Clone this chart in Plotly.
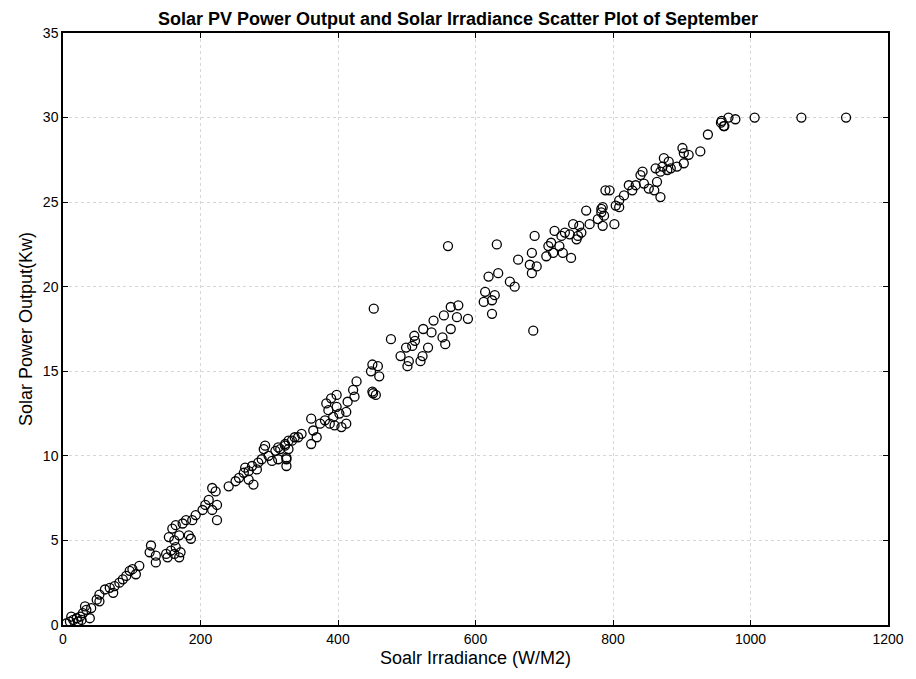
import plotly.graph_objects as go

# Solar irradiance (W/M2) and PV power output (kW)
irradiance = [
    1139, 1074, 1006, 978, 968, 958, 961, 957, 962, 938, 927,
    901, 903, 910, 893, 903, 881, 874, 872, 869, 879, 884, 862, 864, 852, 860, 869,
    843, 840, 845, 833, 828, 823, 816, 809, 809, 804, 795, 789, 785, 783, 787, 783,
    778, 785, 802, 761, 766, 751, 754, 742, 749, 747, 737, 730, 725, 715, 710, 706,
    713, 722, 727, 739, 703, 686, 682, 679, 682, 689, 662, 650, 657, 633, 619, 631,
    614, 628, 612, 624, 624, 684,
    560, 452, 575, 564, 573, 589, 554, 539, 524, 536, 564, 552, 556, 511, 512, 499,
    508, 531, 477, 491, 503, 501, 523, 520, 458, 450, 448, 460, 450, 455, 451,
    427, 422, 424, 414, 398, 390, 383, 386, 398, 402, 412, 393, 381, 388, 395, 405,
    412, 361, 374, 364, 369, 361, 347, 342, 333, 323, 328, 316, 325,
    337, 328, 323, 313, 309, 294, 292, 299, 289, 304, 313, 325, 325, 284, 282, 275,
    270, 265, 263, 270, 277, 256, 251, 241, 222, 217, 224, 212, 207, 203, 217, 224,
    193, 188, 179, 174, 164, 159, 169, 154, 162, 183, 186, 164, 157, 171, 150, 169,
    162, 152, 128, 126, 135, 135, 111, 101, 106, 97, 92, 87, 82, 75, 68, 73, 61,
    53, 53, 49, 34, 29, 25, 20, 15, 10, 5, 27, 39, 32, 41, 22, 12,
]
power = [
    30.0, 30.0, 30.0, 29.9, 30.0, 29.8, 29.5, 29.7, 29.5, 29.0, 28.0,
    28.2, 27.9, 27.8, 27.1, 27.3, 27.4, 27.6, 27.1, 26.8, 26.9, 27.0, 27.0, 26.2, 25.8, 25.7, 25.3,
    26.8, 26.6, 26.1, 26.0, 25.7, 26.0, 25.4, 25.1, 24.7, 24.8, 25.7, 25.7, 24.7, 24.4, 24.2, 24.6,
    24.0, 23.6, 23.7, 24.5, 23.7, 23.6, 23.2, 23.7, 23.0, 22.8, 23.1, 23.2, 23.0, 23.3, 22.6, 22.4,
    22.0, 22.4, 22.0, 21.7, 21.8, 23.0, 22.0, 21.3, 20.8, 21.2, 21.6, 20.3, 20.0, 20.8, 20.6, 22.5,
    19.7, 19.5, 19.1, 19.2, 18.4, 17.4,
    22.4, 18.7, 18.9, 18.8, 18.2, 18.1, 18.3, 18.0, 17.5, 17.3, 17.5, 17.0, 16.6, 17.1, 16.8, 16.4,
    16.5, 16.4, 16.9, 15.9, 15.6, 15.3, 15.9, 15.6, 15.3, 15.4, 15.0, 14.7, 13.8, 13.6, 13.7,
    14.4, 13.9, 13.5, 13.2, 13.6, 13.4, 13.1, 12.7, 12.9, 12.5, 12.6, 12.3, 12.1, 11.9, 11.8, 11.7,
    11.9, 12.2, 11.9, 11.5, 11.1, 10.7, 11.3, 11.1, 10.9, 10.7, 10.4, 10.4, 9.9,
    11.1, 10.9, 10.6, 10.5, 10.3, 10.6, 10.4, 10.0, 9.8, 9.7, 9.8, 9.8, 9.4, 9.6, 9.2, 9.4,
    9.1, 9.3, 9.0, 8.6, 8.3, 8.7, 8.5, 8.2, 7.9, 8.1, 7.1, 7.4, 7.1, 6.8, 6.8, 6.2,
    6.5, 6.2, 6.2, 6.0, 5.9, 5.7, 5.3, 5.2, 5.0, 5.3, 5.1, 4.6, 4.4, 4.3, 4.2, 4.0,
    4.2, 4.0, 4.7, 4.3, 4.1, 3.7, 3.5, 3.3, 3.0, 3.2, 2.9, 2.7, 2.5, 2.3, 2.2, 1.9, 2.1,
    1.8, 1.4, 1.5, 0.9, 0.7, 0.5, 0.4, 0.3, 0.2, 0.1, 0.3, 0.4, 1.1, 1.0, 0.2, 0.5,
]

x_ticks = [0, 200, 400, 600, 800, 1000, 1200]
y_ticks = [0, 5, 10, 15, 20, 25, 30, 35]

fig = go.Figure()
fig.add_trace(go.Scatter(
    x=irradiance, y=power, mode="markers",
    marker=dict(symbol="circle-open", size=9, color="black", line=dict(width=1.3, color="black")),
    showlegend=False,
))

axis_common = dict(
    showline=True, linecolor="black", linewidth=1.5, mirror="ticks",
    ticks="inside", ticklen=5, tickwidth=1.2, tickcolor="black",
    showgrid=True, gridcolor="#d6d6d6", griddash="dot", gridwidth=1,
    zeroline=False, tickfont=dict(size=14, color="black"),
)

fig.update_layout(
    width=916, height=679,
    margin=dict(l=63, r=22, t=33, b=54),
    paper_bgcolor="white", plot_bgcolor="white",
    font=dict(family="Liberation Sans, Arial, sans-serif", color="black"),
    title=dict(text="<b>Solar PV Power Output and Solar Irradiance Scatter Plot of September</b>",
               x=0.5, xanchor="center", y=0.973, yanchor="middle", font=dict(size=18)),
    xaxis=dict(range=[0, 1200], tickvals=x_ticks,
               title=dict(text="Soalr Irradiance (W/M2)", font=dict(size=18), standoff=6),
               **axis_common),
    yaxis=dict(range=[0, 35], tickvals=y_ticks,
               title=dict(text="Solar Power Output(Kw)", font=dict(size=18), standoff=6),
               **axis_common),
)

fig.write_html("out.html")
